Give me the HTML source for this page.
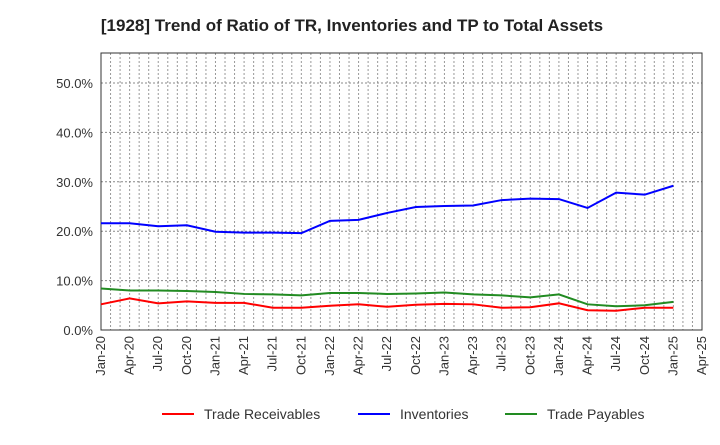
<!DOCTYPE html>
<html><head><meta charset="utf-8"><style>
body{margin:0;background:#fff;font-family:"Liberation Sans",Arial,sans-serif;}
svg text{font-family:"Liberation Sans",Arial,sans-serif;}
</style></head><body>
<svg id="c" width="720" height="440" xmlns="http://www.w3.org/2000/svg">
<text x="352" y="31" text-anchor="middle" font-size="17" font-weight="bold" fill="#222">[1928]  Trend of Ratio of TR, Inventories and TP to Total Assets</text>
<g id="grid"></g>
<g id="axes"></g>
<g id="series"></g>
<g id="legend"></g>
</svg>
<script>
const xLabels=["Jan-20","Apr-20","Jul-20","Oct-20","Jan-21","Apr-21","Jul-21","Oct-21","Jan-22","Apr-22","Jul-22","Oct-22","Jan-23","Apr-23","Jul-23","Oct-23","Jan-24","Apr-24","Jul-24","Oct-24","Jan-25","Apr-25"];
const yTicks=[0,10,20,30,40,50];
const tradeReceivables=[5.2,6.4,5.4,5.8,5.5,5.5,4.5,4.5,4.9,5.2,4.7,5.1,5.3,5.2,4.5,4.6,5.4,4.0,3.9,4.5,4.5];
const inventories=[21.6,21.6,21.0,21.2,19.9,19.7,19.7,19.6,22.1,22.3,23.7,24.9,25.1,25.2,26.3,26.6,26.5,24.7,27.8,27.4,29.2];
const tradePayables=[8.4,8.0,8.0,7.9,7.7,7.3,7.2,7.0,7.5,7.5,7.3,7.4,7.6,7.2,7.0,6.6,7.2,5.2,4.8,5.0,5.7];
const L=101,R=702,T=53,B=330;
const months=63;
const xq=i=>L+(i*3)*(R-L)/months;
const xm=m=>L+m*(R-L)/months;
const y=v=>B-v*(B-83)/50;
const NS="http://www.w3.org/2000/svg";
function mk(p,tag,a){const e=document.createElementNS(NS,tag);for(const k in a)e.setAttribute(k,a[k]);document.getElementById(p).appendChild(e);return e;}
for(let m=1;m<months;m++){const e=mk('grid','line',{x1:xm(m),x2:xm(m),y1:T,y2:B,stroke:'#999','stroke-width':1,'stroke-dasharray':'2,2'});

}
yTicks.forEach(v=>{if(v>0){const e=mk('grid','line',{x1:L,x2:R,y1:y(v),y2:y(v),stroke:'#888','stroke-width':1,'stroke-dasharray':'2,2'});

}
const t=mk('axes','text',{x:L-8,y:y(v)+5,'text-anchor':'end','font-size':13,fill:'#333'});t.textContent=v.toFixed(1)+'%';

});
const fr=mk('axes','rect',{x:L,y:T,width:R-L,height:B-T,fill:'none',stroke:'#333','stroke-width':1});


xLabels.forEach((s,i)=>{const x=xq(i);const t=mk('axes','text',{x:x+4,y:B+6,'text-anchor':'end','font-size':13,fill:'#333',transform:`rotate(-90 ${x+4} ${B+6})`});t.textContent=s;

});
function line(data,color,name){const p=mk('series','polyline',{points:data.map((v,i)=>xq(i)+','+y(v)).join(' '),fill:'none',stroke:color,'stroke-width':2});

}
line(tradeReceivables,'#f00','trade-receivables-line');
line(inventories,'#00f','inventories-line');
line(tradePayables,'#228b22','trade-payables-line');
[["Trade Receivables","#f00",162],["Inventories","#00f",358],["Trade Payables","#228b22",505]].forEach(([n,c,x])=>{
const g=mk('legend','g',{});


const l=document.createElementNS(NS,'line');l.setAttribute('x1',x);l.setAttribute('x2',x+32);l.setAttribute('y1',414);l.setAttribute('y2',414);l.setAttribute('stroke',c);l.setAttribute('stroke-width',2);g.appendChild(l);
const t=document.createElementNS(NS,'text');t.setAttribute('x',x+42);t.setAttribute('y',419);t.setAttribute('font-size',14);t.setAttribute('fill','#333');t.textContent=n;g.appendChild(t);});
</script>
</body></html>
